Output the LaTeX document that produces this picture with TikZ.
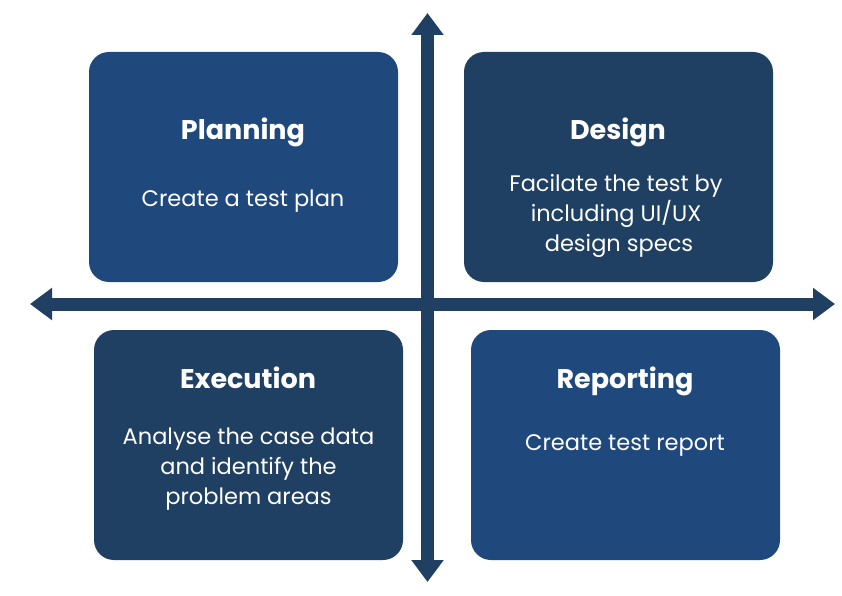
\documentclass[tikz,border=0pt]{standalone}
\usepackage{fontspec}
\setmainfont{Poppins}
\usetikzlibrary{arrows.meta}
\definecolor{lightblue}{HTML}{1F497D}
\definecolor{darkblue}{HTML}{1F3F63}
\tikzset{
  quad/.style={rounded corners=20pt, minimum width=309pt, minimum height=230pt, inner sep=0pt, draw=none},
  ttl/.style={font=\bfseries\fontsize{27}{32}\selectfont, text=white, inner sep=0pt, anchor=base},
  body/.style={font=\fontsize{22.5}{30}\selectfont, text=white, align=center, inner sep=0pt},
  axis/.style={draw=darkblue, line width=13pt, -{Triangle[length=22pt,width=31pt]}},
}
\begin{document}
\begin{tikzpicture}[x=1pt,y=-1pt]
\useasboundingbox (0,0) rectangle (842,596);
\node[quad, fill=lightblue] (plan) at (243.5,167) {};
\node[quad, fill=darkblue] (design) at (618.5,167) {};
\node[quad, fill=darkblue] (exec) at (248.5,445) {};
\node[quad, fill=lightblue] (report) at (625.5,445) {};

\node[ttl] (plant) at (243,140) {Planning};
\node[body, anchor=base] (planb) at (243,206.5) {Create a test plan};
\node[ttl] (designt) at (618,140) {Design};
\node[body] (designb) at (616,215.5) {Facilate the test by\\including UI/UX\\\ design specs};
\node[ttl] (exect) at (248,388) {Execution};
\node[body] (execb) at (248.5,469) {Analyse the case data\\and identify the\\problem areas};
\node[ttl] (reportt) at (625,388) {Reporting};
\node[body, anchor=base] (reportb) at (625,450.5) {Create test report};

\coordinate (vc) at (427.5,304);
\coordinate (top) at (427.5,13);
\coordinate (bot) at (427.5,582);
\coordinate (lft) at (30,304);
\coordinate (rgt) at (835,304);
\draw[axis] (vc) -- (top);
\draw[axis] (vc) -- (bot);
\draw[axis] (vc) -- (lft);
\draw[axis] (vc) -- (rgt);
\end{tikzpicture}
\end{document}
